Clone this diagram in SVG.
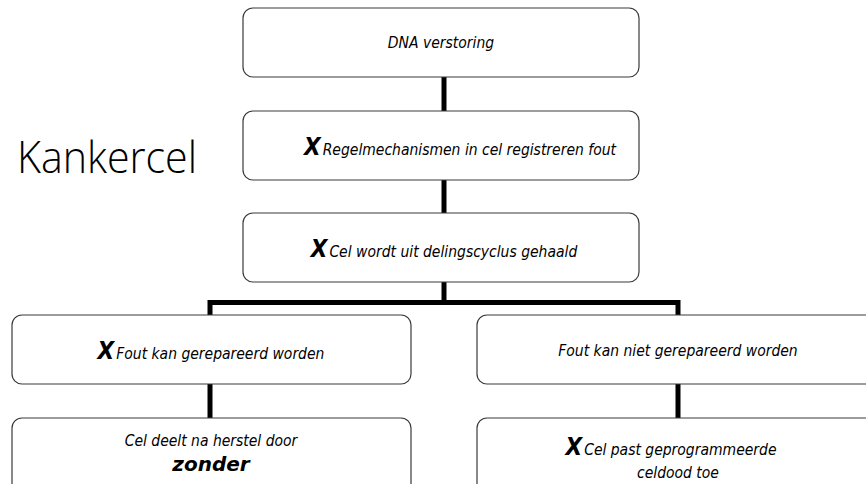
<svg xmlns="http://www.w3.org/2000/svg" width="866" height="484" viewBox="0 0 866 484">
<style>
.box{fill:#fff;stroke:#3a3a3a;stroke-width:1.2}
.t{font-family:"DejaVu Sans Condensed","DejaVu Sans","Liberation Sans",sans-serif;font-stretch:condensed;font-style:italic;font-size:15.5px;fill:#000}
.x{font-family:"DejaVu Sans Condensed","DejaVu Sans","Liberation Sans",sans-serif;font-stretch:condensed;font-style:italic;font-weight:bold;font-size:24px}
.z{font-family:"DejaVu Sans","Liberation Sans",sans-serif;font-stretch:normal;font-style:italic;font-weight:bold;font-size:20px}
.c{stroke:#000;stroke-width:5;fill:none}
</style>
<rect width="866" height="484" fill="#fff"/>
<text x="17" y="173" font-family="'Open Sans','Liberation Sans',sans-serif" font-weight="300" font-size="44" textLength="180" lengthAdjust="spacingAndGlyphs" fill="#000">Kankercel</text>
<g id="connectors">
<line class="c" x1="444" y1="77" x2="444" y2="111"/>
<line class="c" x1="444" y1="180" x2="444" y2="213"/>
<polyline class="c" points="444,282 444,302.5"/>
<polyline class="c" points="210,315 210,302.5 678,302.5 678,315"/>
<line class="c" x1="210" y1="384" x2="210" y2="418"/>
<line class="c" x1="678" y1="384" x2="678" y2="418"/>
</g>
<g id="n1"><rect class="box" x="243" y="8" width="396" height="69" rx="10"/>
<text class="t" x="441" y="48" text-anchor="middle">DNA verstoring</text></g>
<g id="n2"><rect class="box" x="243" y="111" width="396" height="69" rx="10"/>
<text class="t" x="460" y="155" text-anchor="middle"><tspan class="x">X</tspan><tspan dx="2">Regelmechanismen in cel registreren fout</tspan></text></g>
<g id="n3"><rect class="box" x="243" y="213" width="396" height="69" rx="10"/>
<text class="t" x="444" y="257" text-anchor="middle"><tspan class="x">X</tspan><tspan dx="2">Cel wordt uit delingscyclus gehaald</tspan></text></g>
<g id="n4"><rect class="box" x="12" y="315" width="399" height="69" rx="10"/>
<text class="t" x="211" y="359" text-anchor="middle"><tspan class="x">X</tspan><tspan dx="2">Fout kan gerepareerd worden</tspan></text></g>
<g id="n5"><rect class="box" x="477" y="315" width="399" height="69" rx="10"/>
<text class="t" x="678" y="356" text-anchor="middle">Fout kan niet gerepareerd worden</text></g>
<g id="n6"><rect class="box" x="12" y="418" width="399" height="80" rx="10"/>
<text class="t" x="211" y="446" text-anchor="middle">Cel deelt na herstel door</text>
<text class="z" x="211" y="471" text-anchor="middle">zonder</text></g>
<g id="n7"><rect class="box" x="477" y="418" width="399" height="80" rx="10"/>
<text class="t" x="671" y="455" text-anchor="middle"><tspan class="x">X</tspan><tspan dx="2">Cel past geprogrammeerde</tspan></text>
<text class="t" x="678" y="478" text-anchor="middle">celdood toe</text></g>
</svg>
